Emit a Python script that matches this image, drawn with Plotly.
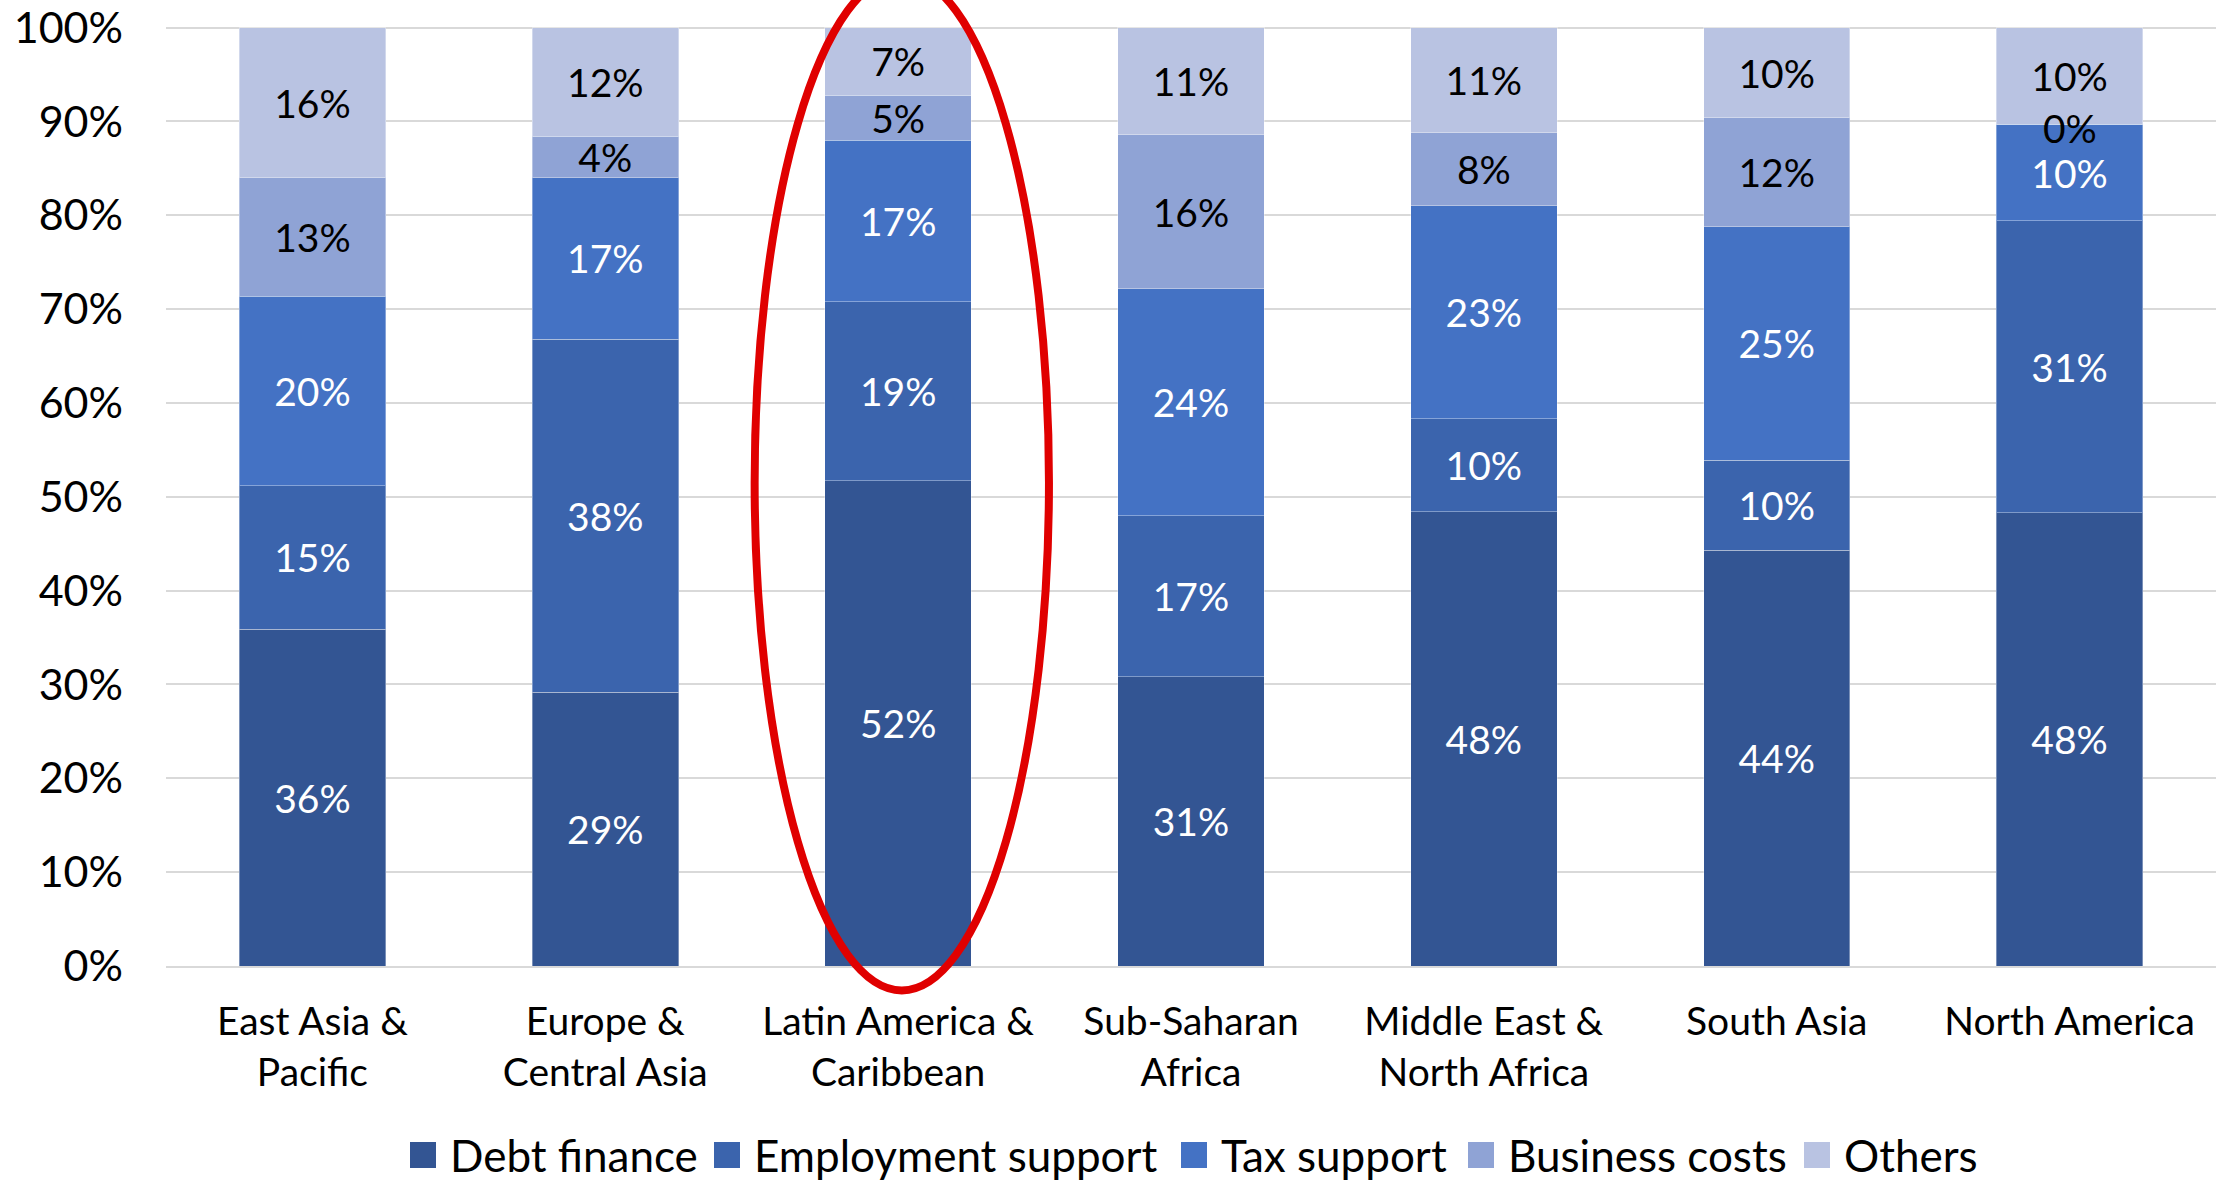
import plotly.graph_objects as go

regions = ["East Asia &<br>Pacific", "Europe &<br>Central Asia", "Latin America &<br>Caribbean",
           "Sub-Saharan<br>Africa", "Middle East &<br>North Africa", "South Asia", "North America"]

debt_finance = [35.9, 29.2, 51.7, 30.8, 48.4, 44.3, 48.3]
employment_support = [15.3, 37.6, 19.1, 17.2, 9.9, 9.6, 31.1]
tax_support = [20.2, 17.2, 17.2, 24.2, 22.7, 24.9, 10.3]
business_costs = [12.6, 4.4, 4.8, 16.4, 7.8, 11.6, 0.0]
others = [16.0, 11.6, 7.2, 11.4, 11.2, 9.6, 10.3]

series_names = ["Debt finance", "Employment support", "Tax support", "Business costs", "Others"]
series_values = [debt_finance, employment_support, tax_support, business_costs, others]
series_colors = ["#335593", "#3B64AD", "#4472C4", "#8FA3D5", "#B9C3E2"]
label_colors = ["white", "white", "white", "black", "black"]

y_ticks = list(range(0, 101, 10))
highlight_index = 2  # Latin America & Caribbean

FONT = "Lato"
W, H = 2231, 1180
YMAX = 100.6
ML, MR, MT, MB = 166, 15, 22, 214
PW, PH = W - ML - MR, H - MT - MB


def px_to_paper(px, py):
    return (px - ML) / PW, (H - MB - py) / PH


fig = go.Figure()
for name, vals, color, tcolor in zip(series_names, series_values, series_colors, label_colors):
    fig.add_trace(go.Bar(
        name=name, x=regions, y=vals, width=0.5, showlegend=False,
        marker=dict(color=color, line=dict(width=1, color="rgba(255,255,255,0.35)")),
        texttemplate="%{y:.0f}%", textposition="inside", insidetextanchor="middle",
        constraintext="none",
        insidetextfont=dict(family=FONT, size=39, color=tcolor),
        hoverinfo="skip",
    ))

# labels for zero-height segments (library hides them)
annotations = []
base = [0.0] * len(regions)
for vals in series_values:
    for i, v in enumerate(vals):
        if v == 0:
            annotations.append(dict(x=regions[i], y=base[i] - 0.4, xref="x", yref="y",
                                    text="%d%%" % round(v), showarrow=False,
                                    font=dict(family=FONT, size=39, color="black")))
    base = [b + v for b, v in zip(base, vals)]

# legend drawn as squares + text below the plot
legend_marker_left = [410, 714, 1181, 1468, 1804]
legend_y = 1155
sq = 26
shapes = []
for name, color, mx in zip(series_names, series_colors, legend_marker_left):
    x0, y0 = px_to_paper(mx, legend_y + sq / 2)
    x1, y1 = px_to_paper(mx + sq, legend_y - sq / 2)
    shapes.append(dict(type="rect", xref="paper", yref="paper", x0=x0, x1=x1, y0=y0, y1=y1,
                       fillcolor=color, line=dict(width=0)))
    tx, ty = px_to_paper(mx + sq + 12, legend_y)
    annotations.append(dict(x=tx, y=ty, xref="paper", yref="paper", xanchor="left",
                            yanchor="middle", text=name, showarrow=False,
                            font=dict(family=FONT, size=44, color="black")))

# red ellipse highlighting one region (domain refs so it is not clipped)
n = len(regions)
cx0 = (highlight_index - 0.49 + 0.5) / n
cx1 = (highlight_index + 0.515 + 0.5) / n
shapes.append(dict(type="circle", xref="x domain", yref="y domain",
                   x0=cx0, x1=cx1, y0=-2.6 / YMAX, y1=105.6 / YMAX,
                   line=dict(color="#E00000", width=8), layer="above"))

fig.update_layout(
    barmode="stack",
    width=W, height=H,
    margin=dict(l=ML, r=MR, t=MT, b=MB, autoexpand=False),
    paper_bgcolor="white", plot_bgcolor="white",
    font=dict(family=FONT, size=39, color="black"),
    showlegend=False,
    xaxis=dict(type="category", range=[-0.5, n - 0.5], showgrid=False,
               showline=True, linecolor="#D9D9D9", linewidth=2,
               tickfont=dict(family=FONT, size=39), ticks="", ticklabelstandoff=20),
    yaxis=dict(range=[0, YMAX], tickmode="array", tickvals=y_ticks,
               ticktext=["%d%%" % v for v in y_ticks], showgrid=True,
               gridcolor="#D9D9D9", gridwidth=2, zeroline=False,
               ticklabeloverflow="allow",
               tickfont=dict(family=FONT, size=43), ticks="", ticklabelstandoff=42),
    annotations=annotations,
    shapes=shapes,
)

fig.write_html("out.html", config={"displayModeBar": False},
               post_script="document.body.style.margin='0';document.body.style.overflow='hidden';")
